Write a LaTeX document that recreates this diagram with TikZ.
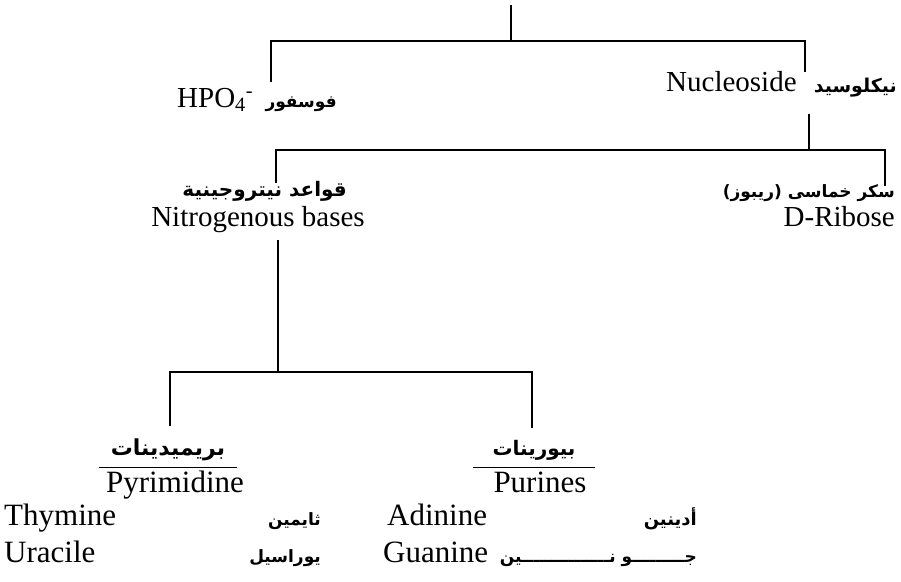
\documentclass[tikz,border=0pt]{standalone}
\usepackage{fontspec}
\setmainfont{Liberation Serif}
\newfontfamily\arabicfont[Script=Arabic]{DejaVu Sans Bold}
\TeXXeTstate=1
\usetikzlibrary{positioning}

\begin{document}
\begin{tikzpicture}[x=1pt,y=-1pt,
    branch/.style={line width=1.6pt},
    en/.style={inner sep=0pt,font=\fontsize{29}{32}\selectfont},
    enlow/.style={inner sep=0pt,font=\fontsize{31}{34}\selectfont},
    ar/.style={inner sep=0pt,font=\fontsize{#1}{24}\selectfont\arabicfont},
    ar/.default=19,
    heading/.style={ar=#1,text depth=12pt,minimum width=122pt}]
    \useasboundingbox (0,0) rectangle (901,581);

    % first level: phosphate and nucleoside
    \node[en,anchor=base west]  (hpo)    at (177,107) {HPO\textsubscript{4}\textsuperscript{-}};
    \node[ar=17,base right=12pt of hpo]  (hpoAr)  {\beginR فوسفور\endR};
    \node[en,anchor=base west]  (nucs)   at (666,91)  {Nucleoside};
    \node[ar=19,anchor=base east] (nucsAr) at (897,92) {\beginR نيكلوسيد\endR};

    % second level: bases and sugar
    \node[ar=20,anchor=base east] (basesAr)  at (347,196) {\beginR قواعد نيتروجينية\endR};
    \node[en,anchor=base]         (bases)    at (258,226) {Nitrogenous bases};
    \node[ar=17,anchor=base east] (riboseAr) at (895,197) {\beginR سكر خماسى (ريبوز)\endR};
    \node[en,anchor=base east]    (ribose)   at (895,226) {D-Ribose};

    % third level: pyrimidines and purines
    \node[heading=22,minimum width=137pt,anchor=base] (pyrAr) at (168,455) {\beginR بريميدينات\endR};
    \node[enlow,anchor=base]                          (pyr)   at (175,492) {Pyrimidine};
    \node[heading=20,anchor=base]                     (purAr) at (534,455) {\beginR بيورينات\endR};
    \node[enlow,anchor=base]                          (pur)   at (540,492) {Purines};

    \node[enlow,anchor=base west] (thy)   at (4,525)   {Thymine};
    \node[ar=17,anchor=base east] (thyAr) at (321,525) {\beginR ثايمين\endR};
    \node[enlow,anchor=base west] (ura)   at (4,562)   {Uracile};
    \node[ar=17,anchor=base east] (uraAr) at (321,562) {\beginR يوراسيل\endR};
    \node[enlow,anchor=base west] (ade)   at (387,525) {Adinine};
    \node[ar=18,anchor=base east] (adeAr) at (697,525) {\beginR أدينين\endR};
    \node[enlow,anchor=base west] (gua)   at (383,562) {Guanine};
    \node[ar=17,anchor=base east] (guaAr) at (697,562) {\beginR جـــــــــو نـــــــــــــــين\endR};

    % branch points
    \coordinate (root)  at (511,5);
    \coordinate (fork1) at (511,41);
    \coordinate (hpoEnd)  at (271,82);
    \coordinate (nucsEnd) at (805,72);
    \coordinate (nucsTop) at (809,114);
    \coordinate (fork2)   at (809,150);
    \coordinate (basesEnd)  at (276,183);
    \coordinate (riboseEnd) at (885,186);
    \coordinate (basesTop)  at (278,240);
    \coordinate (fork3)     at (278,372);
    \coordinate (pyrEnd)    at (170,426);
    \coordinate (purEnd)    at (532,428);

    \draw[branch] (root) -- (fork1);
    \draw[branch] (hpoEnd) |- (fork1) -| (nucsEnd);
    \draw[branch] (nucsTop) -- (fork2);
    \draw[branch] (basesEnd) |- (fork2) -| (riboseEnd);
    \draw[branch] (basesTop) -- (fork3);
    \draw[branch] (pyrEnd) |- (fork3) -| (purEnd);

    % rules under the headings
    \draw[line width=1.2pt] (pyrAr.south west) -- (pyrAr.south east);
    \draw[line width=1.2pt] (purAr.south west) -- (purAr.south east);
\end{tikzpicture}
\end{document}
